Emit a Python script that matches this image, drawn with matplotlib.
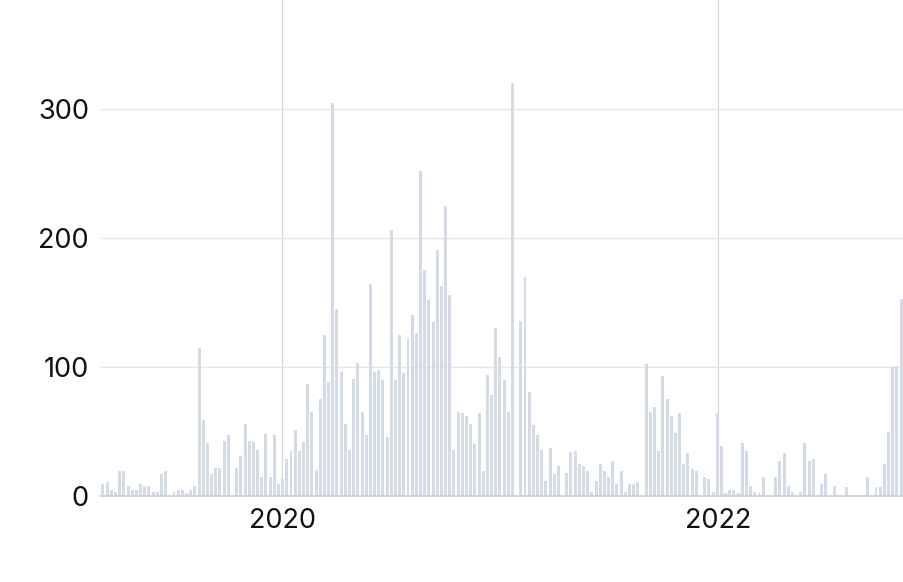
import numpy as np
import pandas as pd
import matplotlib
matplotlib.use("Agg")
import matplotlib.pyplot as plt
import matplotlib.dates as mdates

# --- data: weekly counts ---
start_date = "2019-03-07"
counts = [
	9, 11, 5, 3, 19, 19, 8, 5, 5, 9, 8, 8, 3, 3, 17, 19,
	0, 3, 5, 5, 2, 5, 8, 115, 59, 41, 17, 22, 22, 43, 47, 0,
	22, 31, 56, 43, 42, 36, 15, 48, 15, 47, 9, 13, 29, 35, 51, 35,
	42, 87, 65, 20, 75, 125, 88, 305, 145, 96, 56, 36, 91, 103, 65, 47,
	164, 96, 98, 90, 46, 206, 90, 125, 95, 122, 140, 126, 252, 175, 152, 135,
	191, 163, 225, 156, 36, 65, 64, 62, 56, 40, 64, 19, 94, 78, 130, 108,
	90, 65, 320, 0, 136, 170, 81, 55, 47, 36, 12, 37, 17, 23, 0, 18,
	34, 35, 25, 23, 19, 3, 12, 25, 19, 15, 27, 9, 19, 3, 9, 9,
	11, 0, 102, 65, 69, 35, 93, 75, 62, 49, 64, 25, 33, 21, 19, 1,
	15, 13, 3, 64, 39, 2, 5, 5, 2, 41, 35, 8, 3, 2, 15, 0,
	0, 15, 27, 33, 8, 3, 1, 3, 41, 27, 29, 0, 9, 17, 0, 8,
	0, 0, 7, 0, 0, 0, 0, 15, 0, 7, 7, 25, 50, 100, 101, 153,
]
weeks = pd.date_range(start_date, periods=len(counts), freq="7D")

y_ticks = [0, 100, 200, 300]

bar_color = "#d3dbe7"
grid_color = "#e6e6e6"

plt.rcParams["font.family"] = ["Inter", "DejaVu Sans"]

fig = plt.figure(figsize=(9.04, 5.82), dpi=100)
ax = fig.add_axes([100 / 904, (582 - 496) / 582, 804 / 904, 496 / 582])

x = mdates.date2num(weeks)
ax.bar(x, counts, width=5, color=bar_color, zorder=2)

ax.set_xlim(x[0] - 0.71 * 7, x[-1] + 0.7 * 7)
ax.set_ylim(0, 384.5)

ax.xaxis.set_major_locator(mdates.YearLocator(2))
ax.xaxis.set_major_formatter(mdates.DateFormatter("%Y"))
ax.set_yticks(y_ticks)

ax.grid(axis="y", color=grid_color, linewidth=1, zorder=0)
ax.grid(axis="x", color="#d5d5d5", linewidth=0.8, zorder=0)

for s in ["top", "right", "left"]:
	ax.spines[s].set_visible(False)
ax.spines["bottom"].set_color("#cfcfcf")
ax.spines["bottom"].set_linewidth(1.2)

ax.tick_params(axis="both", length=0, labelsize=19.5, colors="#111111")
ax.tick_params(axis="y", pad=8)
ax.tick_params(axis="x", pad=9)

plt.savefig("out.png", dpi=100)
